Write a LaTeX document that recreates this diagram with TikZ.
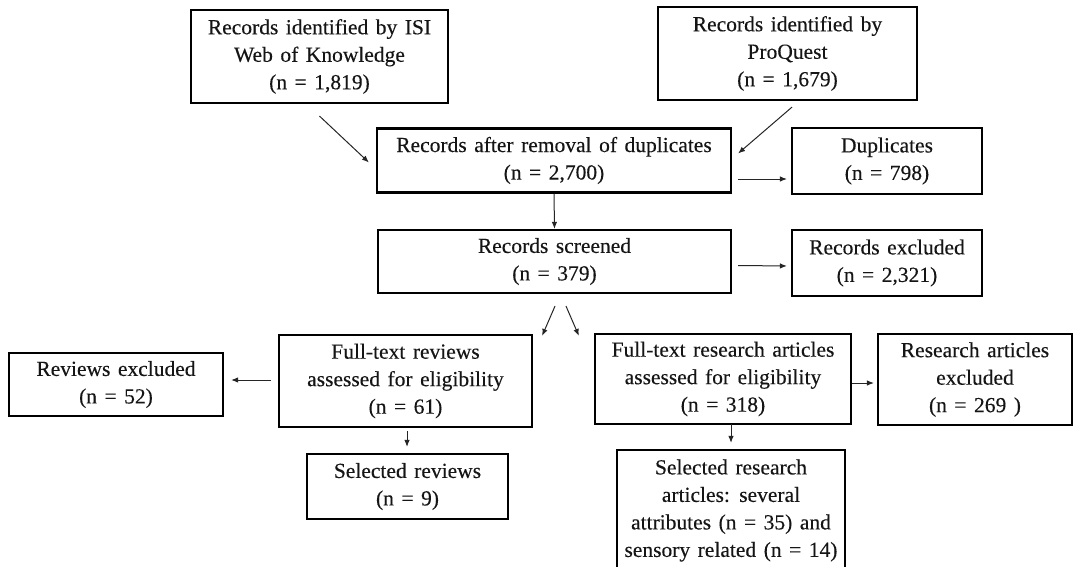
\documentclass[tikz,border=0pt]{standalone}
\usepackage{fontspec}
\setmainfont{Liberation Serif}[WordSpace={1.4,1,1},FakeBold=0.25]
\usetikzlibrary{arrows.meta,calc}
\definecolor{txt}{HTML}{151515}
\definecolor{arrcol}{HTML}{252525}
\newcommand{\boxfont}{\fontsize{21.5}{27.5}\selectfont}
\tikzset{
  box/.style={draw=black, line width=2.2pt, align=center, inner sep=0pt, text=txt,
    font=\boxfont, execute at begin node={\rule{0pt}{21pt}}},
  arr/.style={draw=arrcol, line width=1pt, -{Latex[length=7pt,width=5.5pt]}}
}
\begin{document}
\begin{tikzpicture}[x=1pt,y=-1pt]
\useasboundingbox (0,0) rectangle (1073,567);
\fill[white] (0,0) rectangle (1073,567);

\node[box, minimum width=257pt, minimum height=93pt] (isi) at (319.5,56.5)
  {Records identified by ISI\\Web of Knowledge\\(n = 1,819)};
\node[box, minimum width=259pt, minimum height=93pt] (pq) at (787.5,53.5)
  {Records identified by\\ProQuest\\(n = 1,679)};
\node[box, minimum width=354pt, minimum height=64pt] (rem) at (554,160.5)
  {Records after removal of duplicates\\(n = 2,700)};
\node[box, minimum width=190pt, minimum height=66pt] (dup) at (887,161)
  {Duplicates\\(n = 798)};
\node[box, minimum width=353pt, minimum height=63pt] (scr) at (554.5,261.5)
  {Records screened\\(n = 379)};
\node[box, minimum width=190pt, minimum height=66pt] (exc) at (887,263)
  {Records excluded\\(n = 2,321)};
\node[box, minimum width=253pt, minimum height=92pt] (ftrev) at (405.5,381)
  {Full-text reviews\\assessed for eligibility\\(n = 61)};
\node[box, minimum width=214pt, minimum height=63pt] (revex) at (116,384.5)
  {Reviews excluded\\(n = 52)};
\node[box, minimum width=256pt, minimum height=90pt] (fta) at (723,379)
  {Full-text research articles\\assessed for eligibility\\(n = 318)};
\node[box, minimum width=194pt, minimum height=91pt] (raex) at (975,379.5)
  {Research articles\\excluded\\(n = 269 )};
\node[box, minimum width=201pt, minimum height=65pt] (selrev) at (407.5,486.5)
  {Selected reviews\\(n = 9)};
\node[box, minimum width=228pt, minimum height=121pt] (selra) at (731,510.5)
  {Selected research\\articles: several\\attributes (n = 35) and\\sensory related (n = 14)};

% connectors
\draw[arr] ($(isi.south)+(0,12)$) -- ($(rem.west)+(-7,2)$);
\draw[arr] ($(pq.south)+(4.5,6)$) -- ($(rem.east)+(6,-7)$);
\draw[arr] ($(rem.east)+(6,18.5)$) -- ($(dup.west)+(-4,18)$);
\draw[arr] (rem.south) -- (scr.north);
\draw[arr] ($(scr.east)+(6,4)$) -- ($(exc.west)+(-4,3)$);
\draw[arr] ($(scr.south)+(0.5,12)$) -- ($(ftrev.north east)+(9,2)$);
\draw[arr] ($(scr.south)+(11.5,12)$) -- ($(fta.north west)+(-15,3)$);
\draw[arr] ($(ftrev.west)+(-7,-1)$) -- ($(revex.east)+(7,-4.5)$);
\draw[arr] ($(ftrev.south)+(1.5,3)$) -- ($(selrev.north)+(-0.5,-6)$);
\draw[arr] ($(fta.east)+(0,4)$) -- ($(raex.west)+(-3,3.5)$);
\draw[arr] ($(selra.north)+(0,-25)$) -- ($(selra.north)+(0,-6)$);
\end{tikzpicture}
\end{document}
